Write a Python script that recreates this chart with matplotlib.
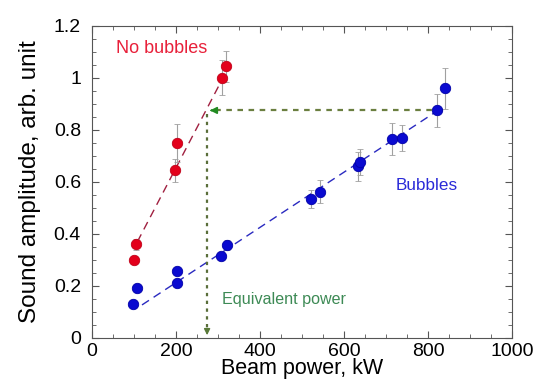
import matplotlib
matplotlib.use("Agg")
import matplotlib.pyplot as plt
from matplotlib.ticker import MultipleLocator

plt.rcParams['font.family'] = ['Liberation Sans', 'DejaVu Sans']

# No bubbles: beam power (kW), amplitude, error
nb_power = [100, 105, 197, 203, 310, 319]
nb_amp = [0.30, 0.36, 0.645, 0.75, 1.00, 1.045]
nb_err = [0.015, 0.02, 0.045, 0.072, 0.067, 0.06]

# Bubbles: beam power (kW), amplitude, error
b_power = [98, 106, 202, 202, 308, 321, 521, 543, 633, 637, 714, 738, 821, 841]
b_amp = [0.13, 0.192, 0.21, 0.257, 0.315, 0.358, 0.535, 0.563, 0.66, 0.675, 0.765, 0.77, 0.875, 0.96]
b_err = [0.008, 0.01, 0.01, 0.012, 0.015, 0.02, 0.035, 0.043, 0.055, 0.05, 0.06, 0.05, 0.064, 0.08]

# Linear fit segments (endpoints)
nb_fit_x = [108, 302]
nb_fit_y = [0.37, 0.97]
b_fit_x = [119, 836]
b_fit_y = [0.127, 0.888]

# Equivalent power construction
equiv_power = 274
equiv_amp = 0.875
ref_power = 836

fig = plt.figure(figsize=(5.35, 3.81), dpi=100)
ax = fig.add_axes([0.172, 0.113, 0.785, 0.819])

ax.plot(nb_fit_x, nb_fit_y, ls=(0, (6, 4)), color='#a02040', lw=1.0, zorder=2)
ax.plot(b_fit_x, b_fit_y, ls=(0, (6, 4)), color='#2a2ac0', lw=1.0, zorder=2)

ax.errorbar(nb_power, nb_amp, yerr=nb_err, fmt='o', ms=7.5, mfc='#e3001b',
            mec='#c00018', mew=0.6, ecolor='#a0a0a0', elinewidth=0.8,
            capsize=2, capthick=0.8, zorder=3)
ax.errorbar(b_power, b_amp, yerr=b_err, fmt='o', ms=7.5, mfc='#0a0ad0',
            mec='#0000a8', mew=0.6, ecolor='#a0a0a0', elinewidth=0.8,
            capsize=2, capthick=0.8, zorder=3)

# Equivalent power arrows
ax.plot([ref_power, equiv_power + 12], [equiv_amp, equiv_amp], ls=(0, (2.5, 2.5)),
        color='#6b7f40', lw=1.6, zorder=2)
ax.annotate('', xy=(equiv_power, equiv_amp), xytext=(equiv_power + 20, equiv_amp),
            arrowprops=dict(arrowstyle='-|>', color='#228b22', lw=1.2,
                            mutation_scale=10), zorder=4)
ax.plot([equiv_power, equiv_power], [equiv_amp - 0.015, 0.03], ls=(0, (1.5, 2)),
        color='#5a6e3a', lw=1.6, zorder=2)
ax.annotate('', xy=(equiv_power, 0.0), xytext=(equiv_power, 0.04),
            arrowprops=dict(arrowstyle='-|>', color='#5a7a3a', lw=1.0,
                            mutation_scale=9), zorder=4)

ax.text(58, 1.095, 'No bubbles', color='#e8203a', fontsize=13)
ax.text(722, 0.57, 'Bubbles', color='#2a2ad8', fontsize=12.3)
ax.text(310, 0.13, 'Equivalent power', color='#3d8a55', fontsize=11.6)

ax.set_xlim(0, 1000)
ax.set_ylim(0, 1.2)
ax.xaxis.set_major_locator(MultipleLocator(200))
ax.xaxis.set_minor_locator(MultipleLocator(50))
ax.yaxis.set_major_locator(MultipleLocator(0.2))
ax.yaxis.set_minor_locator(MultipleLocator(0.05))
ax.set_yticks([0, 0.2, 0.4, 0.6, 0.8, 1.0, 1.2])
ax.set_yticklabels(['0', '0.2', '0.4', '0.6', '0.8', '1', '1.2'])
ax.tick_params(which='both', direction='in', top=True, right=True,
               colors='#555555', labelcolor='black', labelsize=14)
ax.tick_params(axis='x', pad=3.5)
ax.tick_params(axis='y', pad=8)
ax.tick_params(which='major', length=5, width=0.8)
ax.tick_params(which='minor', length=3, width=0.6)
for s in ax.spines.values():
    s.set_color('#555555')
    s.set_linewidth(0.8)

ax.set_xlabel('Beam power, kW', fontsize=15.5, labelpad=-1)
ax.set_ylabel('Sound amplitude, arb. unit', fontsize=17.5, labelpad=9)

fig.savefig('out.png', dpi=100)
